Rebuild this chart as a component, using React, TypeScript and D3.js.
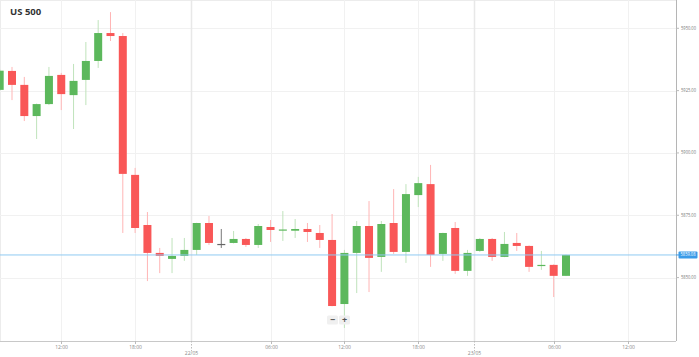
import React from "react";
import * as d3 from "d3";

const title = "US 500";
const opens = [5925.3, 5932.9, 5927.3, 5914.8, 5919.6, 5931.3, 5923.2, 5929.3, 5936.9, 5948.1, 5946.9, 5891.2, 5871.1, 5859.9, 5857.5, 5858.7, 5861.1, 5871.9, 5863.5, 5863.9, 5865.5, 5863.1, 5870.3, 5869.1, 5868.8, 5869.5, 5867.9, 5865.1, 5839.4, 5859.9, 5870.7, 5858.3, 5871.9, 5860.3, 5883.1, 5887.5, 5859.5, 5869.9, 5852.7, 5860.7, 5865.5, 5858.3, 5863.9, 5862.7, 5854.9, 5855.1, 5850.7];
const highs = [5933.5, 5934.5, 5930.5, 5919.8, 5934.5, 5932.1, 5935.7, 5944.5, 5953.3, 5956.5, 5948.1, 5894.0, 5876.3, 5861.9, 5865.9, 5865.9, 5872.0, 5874.7, 5869.5, 5868.7, 5865.9, 5871.5, 5873.1, 5876.7, 5873.5, 5871.9, 5871.1, 5875.5, 5861.1, 5872.7, 5880.7, 5872.7, 5885.5, 5887.5, 5890.4, 5895.2, 5868.0, 5872.3, 5861.1, 5865.9, 5865.9, 5868.3, 5867.9, 5862.9, 5860.7, 5855.3, 5859.2];
const lows = [5925.0, 5921.2, 5912.8, 5905.6, 5919.2, 5917.2, 5909.6, 5919.2, 5934.1, 5944.9, 5867.9, 5867.9, 5848.6, 5851.8, 5851.8, 5856.7, 5859.1, 5863.1, 5861.9, 5863.7, 5862.3, 5861.9, 5864.3, 5864.7, 5865.9, 5864.3, 5861.9, 5838.5, 5829.8, 5843.8, 5844.2, 5852.3, 5859.5, 5855.9, 5878.3, 5854.3, 5856.7, 5851.5, 5850.7, 5860.3, 5856.7, 5858.2, 5860.7, 5852.3, 5853.1, 5842.2, 5850.6];
const closes = [5933.0, 5927.3, 5914.8, 5919.6, 5930.9, 5923.6, 5928.9, 5936.9, 5948.1, 5946.9, 5891.6, 5869.9, 5859.9, 5858.7, 5858.7, 5861.1, 5871.9, 5863.9, 5863.5, 5865.5, 5863.1, 5870.7, 5869.1, 5869.3, 5869.5, 5868.3, 5865.1, 5838.6, 5859.9, 5870.7, 5857.9, 5871.5, 5860.3, 5883.5, 5887.9, 5859.1, 5867.9, 5852.7, 5859.9, 5865.5, 5858.3, 5863.5, 5862.7, 5854.3, 5855.1, 5850.7, 5859.1];

const yTicks = [5950, 5925, 5900, 5875, 5850];
const xTickPos = [5, 11, 15.5, 22, 28, 34, 38.5, 45, 51];
const xTickLabels = ["12:00", "18:00", "22/05", "06:00", "12:00", "18:00", "23/05", "06:00", "12:00"];
const xTickIsDay = [false, false, true, false, false, false, true, false, false];
const currentPrice = 5859.08;

const W = 699;
const H = 357;
const plotRight = 676;
const plotBottom = 341;

export default function App() {
  const x = d3.scaleLinear().domain([1, 46]).range([12, 566]);
  const y = d3.scaleLinear().domain([5950, 5850]).range([28.3, 277.6]);
  const bw = 8;
  const green = "#5cb85c";
  const red = "#f95757";
  const greenWick = "#bfe3bb";
  const redWick = "#ffb5b5";
  const font = "'Open Sans', 'Noto Sans', sans-serif";

  const idx = d3.range(opens.length);

  return (
    <svg width={W} height={H} style={{ position: "absolute", left: 0, top: 0, background: "#fff" }} fontFamily={font}>
      <defs>
        <clipPath id="plot">
          <rect x={0} y={0} width={plotRight} height={plotBottom} />
        </clipPath>
      </defs>
      <line x1={0.5} x2={0.5} y1={0} y2={plotBottom} stroke="#ececec" />
      <line x1={0} x2={plotRight} y1={0.5} y2={0.5} stroke="#ececec" />
      {yTicks.map((t) => (
        <line key={"hg" + t} x1={0} x2={plotRight} y1={Math.round(y(t)) + 0.5} y2={Math.round(y(t)) + 0.5} stroke="#f1f1f1" />
      ))}
      {xTickPos.map((p, i) => (
        <line
          key={"vg" + i}
          x1={Math.round(x(p)) + 0.5}
          x2={Math.round(x(p)) + 0.5}
          y1={0}
          y2={plotBottom}
          stroke={xTickIsDay[i] ? "#e8e8e8" : "#f1f1f1"}
          strokeWidth={xTickIsDay[i] ? 1.5 : 1}
        />
      ))}
      <g clipPath="url(#plot)">
        {idx.map((i) => {
          const o = opens[i];
          const c = closes[i];
          const up = c > o;
          const flat = Math.abs(c - o) < 0.05;
          const cx = x(i);
          const top = y(Math.max(o, c));
          const bot = y(Math.min(o, c));
          const bodyCol = flat ? "#666" : up ? green : red;
          const wickCol = flat ? "#777" : up ? greenWick : redWick;
          return (
            <g key={"c" + i}>
              <line x1={cx} x2={cx} y1={y(highs[i])} y2={y(lows[i])} stroke={wickCol} strokeWidth={1} />
              <rect x={cx - bw / 2} y={top} width={bw} height={Math.max(1.2, bot - top)} fill={bodyCol} />
            </g>
          );
        })}
      </g>
      <line x1={0} x2={plotRight} y1={y(currentPrice)} y2={y(currentPrice)} stroke="#8fcaf2" strokeWidth={1} />
      <line x1={plotRight + 0.5} x2={plotRight + 0.5} y1={0} y2={plotBottom} stroke="#b5b5b5" />
      <line x1={0} x2={plotRight} y1={plotBottom + 0.5} y2={plotBottom + 0.5} stroke="#c8c8c8" />
      {yTicks.map((t) => (
        <g key={"yt" + t}>
          <line x1={plotRight} x2={plotRight + 3} y1={y(t)} y2={y(t)} stroke="#bbb" />
          <text x={plotRight + 5} y={y(t) + 1.5} fontSize={4.4} fill="#777" textLength={15} lengthAdjust="spacingAndGlyphs">
            {t.toFixed(2)}
          </text>
        </g>
      ))}
      <line x1={plotRight} x2={plotRight + 3} y1={y(currentPrice)} y2={y(currentPrice)} stroke="#3a9be8" />
      <rect x={plotRight + 2.5} y={y(currentPrice) - 3.5} width={19} height={7} rx={1} fill="#3a9be8" />
      <text x={plotRight + 4.5} y={y(currentPrice) + 1.5} fontSize={4.4} fill="#fff" textLength={15} lengthAdjust="spacingAndGlyphs">
        {currentPrice.toFixed(2)}
      </text>
      {xTickPos.map((p, i) => {
        const px = Math.round(x(p)) + 0.5;
        return xTickIsDay[i] ? (
          <g key={"xt" + i}>
            <line x1={px} x2={px} y1={plotBottom} y2={plotBottom + 10} stroke="#bbb" strokeDasharray="1.5,1.5" />
            <text x={px} y={plotBottom + 14} fontSize={5} fill="#888" textAnchor="middle">
              {xTickLabels[i]}
            </text>
          </g>
        ) : (
          <g key={"xt" + i}>
            <line x1={px} x2={px} y1={plotBottom} y2={plotBottom + 3} stroke="#bbb" />
            <text x={px} y={plotBottom + 7.5} fontSize={5} fill="#888" textAnchor="middle">
              {xTickLabels[i]}
            </text>
          </g>
        );
      })}
      <rect x={327} y={315.5} width={11} height={9} rx={1.5} fill="#f0f0f0" />
      <rect x={339} y={315.5} width={11} height={9} rx={1.5} fill="#f0f0f0" />
      <text x={332.5} y={322.5} fontSize={9} fontWeight="bold" fill="#555" textAnchor="middle">−</text>
      <text x={344.5} y={323} fontSize={9} fontWeight="bold" fill="#555" textAnchor="middle">+</text>
      <text x={10} y={15} fontSize={9.5} fontWeight="bold" fill="#333">
        {title}
      </text>
    </svg>
  );
}
